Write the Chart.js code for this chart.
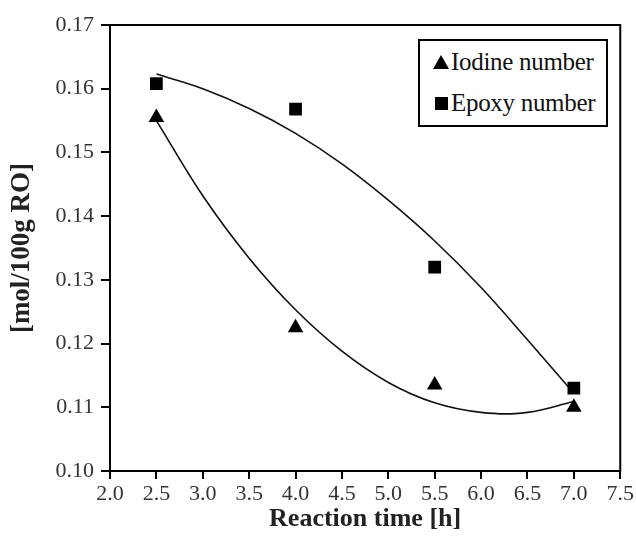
<!DOCTYPE html>
<html>
<head>
<meta charset="utf-8">
<script src="https://cdn.jsdelivr.net/npm/chart.js@4.4.1/dist/chart.umd.min.js"></script>
<style>
  body { margin: 0; background: #fff; }
  #wrap { position: relative; width: 636px; height: 537px; }
  #legend {
    position: absolute; left: 418px; top: 39px; width: 186px; height: 84px;
    border: 2px solid #000; background: #fff;
    font-family: "Liberation Serif", "Times New Roman", serif; font-size: 25px; color: #111;
  }
  .row { position: absolute; left: 13px; display: flex; align-items: center; white-space: nowrap; letter-spacing: -0.3px; }
  .tri { width: 0; height: 0; border-left: 8px solid transparent; border-right: 8px solid transparent;
         border-bottom: 14px solid #000; margin-right: 2px; }
  .sq { width: 13px; height: 13px; background: #000; margin-right: 3px; margin-left: 2px; }
</style>
</head>
<body>
<div id="wrap">
  <canvas id="chart1" width="636" height="537"></canvas>
  <div id="legend"></div>
</div>
<script>
// datos
var seriesNames = ['Iodine number', 'Epoxy number'];
var reactionTime = [2.5, 4.0, 5.5, 7.0];
var iodineNumber = [0.1555, 0.1225, 0.1135, 0.110];
var epoxyNumber = [0.1608, 0.1568, 0.132, 0.113];

var trendTime = [2.5, 3.0, 3.5, 4.0, 4.5, 5.0, 5.5, 6.0, 6.5, 7.0];
var iodineTrend = [0.1550, 0.1432, 0.1334, 0.1253, 0.1188, 0.1139, 0.1107, 0.1092, 0.1092, 0.1109];
var epoxyTrend = [0.1623, 0.1600, 0.1569, 0.1530, 0.1482, 0.1425, 0.1361, 0.1288, 0.1206, 0.1122];

var xTickLabels = ['2.0', '2.5', '3.0', '3.5', '4.0', '4.5', '5.0', '5.5', '6.0', '6.5', '7.0', '7.5'];
var yTickLabels = ['0.10', '0.11', '0.12', '0.13', '0.14', '0.15', '0.16', '0.17'];

function toPoints(xs, ys) {
  var pts = [];
  for (var i = 0; i < xs.length; i++) {
    pts.push({ x: xs[i], y: ys[i] });
  }
  return pts;
}

// leyenda html dentro del area
var legendBox = document.getElementById('legend');
legendBox.innerHTML =
  '<div class="row" style="top:7px"><span class="tri"></span>' + seriesNames[0] + '</div>' +
  '<div class="row" style="top:48px"><span class="sq"></span>' + seriesNames[1] + '</div>';

// marco del area del grafico
var frameBox = {
  id: 'frameBox',
  afterDatasetsDraw: function(chart) {
    var a = chart.chartArea;
    var ctx = chart.ctx;
    ctx.save();
    ctx.strokeStyle = '#000';
    ctx.lineWidth = 2;
    ctx.strokeRect(a.left, a.top, a.right - a.left, a.bottom - a.top);
    ctx.restore();
  }
};

var serif = "'Liberation Serif', 'Times New Roman', serif";

const chartScatter = document.getElementById('chart1');

new Chart(chartScatter, {
  type: 'scatter',
  data: {
    datasets: [{
      label: seriesNames[0],
      data: toPoints(reactionTime, iodineNumber),
      pointStyle: 'triangle',
      pointRadius: 9,
      backgroundColor: '#000',
      borderColor: '#000',
      borderWidth: 0
    },
    {
      label: seriesNames[1],
      data: toPoints(reactionTime, epoxyNumber),
      pointStyle: 'rect',
      pointRadius: 9,
      backgroundColor: '#000',
      borderColor: '#000',
      borderWidth: 0
    },
    {
      label: seriesNames[0] + ' trend',
      data: toPoints(trendTime, iodineTrend),
      showLine: true,
      pointRadius: 0,
      borderColor: '#111',
      borderWidth: 1.6,
      tension: 0.4
    },
    {
      label: seriesNames[1] + ' trend',
      data: toPoints(trendTime, epoxyTrend),
      showLine: true,
      pointRadius: 0,
      borderColor: '#111',
      borderWidth: 1.6,
      tension: 0.4
    }]
  },
  options: {
    responsive: false,
    animation: false,
    layout: { padding: { top: 25, right: 13, left: 0, bottom: 0 } },
    plugins: {
      legend: { display: false },
      tooltip: { enabled: false }
    },
    scales: {
      x: {
        min: 2.0,
        max: 7.5,
        afterFit: function(s) { s.height = 66; },
        border: { color: '#000', width: 2 },
        grid: { drawOnChartArea: false, drawTicks: true, tickLength: 8, color: '#000', lineWidth: 2 },
        ticks: {
          stepSize: 0.5,
          padding: 2,
          color: '#333',
          font: { family: serif, size: 22 },
          callback: function(v, i) { return xTickLabels[i]; }
        },
        title: {
          display: true,
          text: 'Reaction time [h]',
          color: '#222',
          padding: { top: 0, bottom: 2 },
          font: { family: serif, size: 26, weight: 'bold' }
        }
      },
      y: {
        min: 0.10,
        max: 0.17,
        afterFit: function(s) { s.width = 110; },
        border: { color: '#000', width: 2 },
        grid: { drawOnChartArea: false, drawTicks: true, tickLength: 9, color: '#000', lineWidth: 2 },
        ticks: {
          stepSize: 0.01,
          padding: 7,
          color: '#333',
          font: { family: serif, size: 22 },
          callback: function(v, i) { return yTickLabels[i]; }
        },
        title: {
          display: true,
          text: '[mol/100g RO]',
          color: '#222',
          padding: { top: 6, bottom: 0 },
          font: { family: serif, size: 27, weight: 'bold' }
        }
      }
    }
  },
  plugins: [frameBox]
});
</script>
</body>
</html>
